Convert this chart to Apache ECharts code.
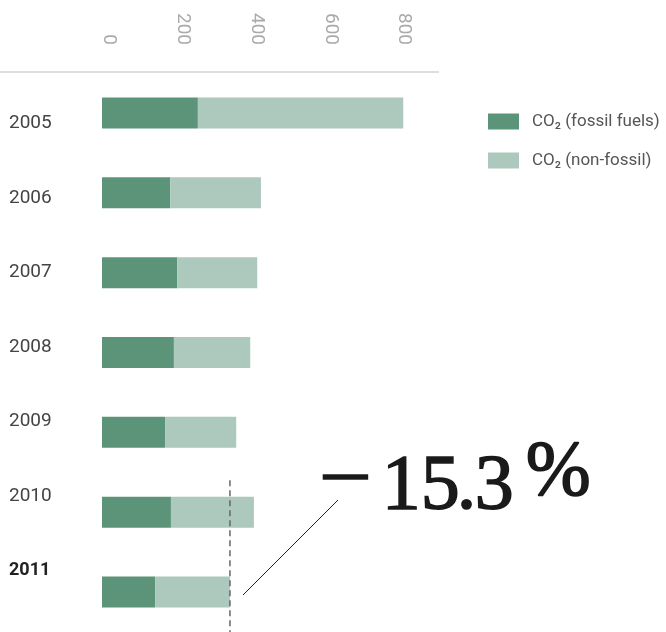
<!DOCTYPE html>
<html>
<head>
<meta charset="utf-8">
<script src="https://cdn.jsdelivr.net/npm/echarts@6/dist/echarts.min.js"></script>
<style>
  html, body { margin: 0; padding: 0; background: #fff; }
  #chart { width: 666px; height: 632px; }
</style>
</head>
<body>
<div id="chart"></div>
<script>
// data
var years = ['2005', '2006', '2007', '2008', '2009', '2010', '2011'];
var fossil = [260, 185, 204, 195, 171, 187, 144];
var nonFossil = [557, 246, 217, 207, 193, 225, 203];
var xTicks = [0, 200, 400, 600, 800];

var total2011 = fossil[6] + nonFossil[6];

var chart = echarts.init(document.getElementById('chart'));

// big annotation text, regular serif thickened with a thin outline
function bigText(str, left, top, size, sx) {
    return {
        type: 'text',
        left: left,
        top: top,
        scaleX: sx || 1,
        style: {
            text: str,
            font: size + 'px "Liberation Serif"',
            fill: '#1a1a1a',
            stroke: '#1a1a1a',
            lineWidth: 1.6
        }
    };
}

var option = {
    animation: false,
    textStyle: { fontFamily: 'Roboto' },
    legend: {
        orient: 'vertical',
        left: 488,
        top: 113,
        padding: 0,
        itemWidth: 31,
        itemHeight: 16,
        itemGap: 22,
        icon: 'rect',
        textStyle: { fontSize: 17, color: '#555', padding: [0, 0, 0, 8] },
        data: ['CO₂ (fossil fuels)', 'CO₂ (non-fossil)']
    },
    grid: [
        // bars
        { left: 102, top: 73, width: 368.75, height: 567 },
        // year labels (spaced a little tighter than the bars)
        { left: 60, top: 86, width: 10, height: 522 },
        // tick labels of the top axis (sit a few px right of the bar origin)
        { left: 109, top: 73, width: 368.75, height: 10 }
    ],
    xAxis: [
        {
            gridIndex: 0,
            type: 'value',
            position: 'top',
            min: 0,
            max: 1000,
            interval: 200,
            show: false
        },
        { gridIndex: 1, type: 'value', show: false },
        {
            gridIndex: 2,
            type: 'value',
            position: 'top',
            min: 0,
            max: 1000,
            interval: 200,
            axisLine: { show: false },
            axisTick: { show: false },
            splitLine: { show: false },
            axisLabel: {
                rotate: -90,
                margin: 28,
                fontSize: 19,
                color: '#aaa',
                formatter: function (v) {
                    return xTicks.indexOf(v) >= 0 ? String(v) : '';
                }
            }
        }
    ],
    yAxis: [
        {
            gridIndex: 0,
            type: 'category',
            inverse: true,
            data: years,
            show: false
        },
        {
            gridIndex: 0,
            type: 'value',
            inverse: true,
            min: -0.5,
            max: 6.5,
            show: false
        },
        {
            gridIndex: 1,
            type: 'category',
            inverse: true,
            data: years,
            axisLine: { show: false },
            axisTick: { show: false },
            axisLabel: {
                align: 'left',
                margin: 51,
                fontSize: 19,
                color: '#444',
                formatter: function (v) {
                    return v === '2011' ? '{b|' + v + '}' : v;
                },
                rich: { b: { fontSize: 18, fontWeight: 'bold', color: '#222' } }
            }
        },
        { gridIndex: 2, type: 'value', show: false }
    ],
    series: [
        {
            name: 'CO₂ (fossil fuels)',
            type: 'bar',
            stack: 'co2',
            barWidth: 31,
            itemStyle: { color: '#5c947a' },
            data: fossil
        },
        {
            name: 'CO₂ (non-fossil)',
            type: 'bar',
            stack: 'co2',
            barWidth: 31,
            itemStyle: { color: '#adc9bd' },
            data: nonFossil
        },
        {
            // dashed reference line at the 2011 total
            type: 'line',
            xAxisIndex: 0,
            yAxisIndex: 1,
            symbol: 'none',
            silent: true,
            clip: false,
            lineStyle: { color: '#666', width: 1.5, type: [6, 4] },
            data: [[total2011, 4.6], [total2011, 6.6]]
        }
    ],
    graphic: [
        {
            type: 'line',
            shape: { x1: 0, y1: 72, x2: 439, y2: 72 },
            style: { stroke: '#bbb', lineWidth: 1 }
        },
        {
            type: 'line',
            shape: { x1: 243, y1: 595, x2: 338, y2: 500 },
            style: { stroke: '#222', lineWidth: 1 }
        },
        bigText('−', 318, 443, 78, 1.2),
        bigText('15', 381, 448, 78),
        bigText('.', 456, 448, 78),
        bigText('3', 474, 448, 78),
        bigText('%', 525, 434, 78)
    ]
};

chart.setOption(option);
</script>
</body>
</html>
